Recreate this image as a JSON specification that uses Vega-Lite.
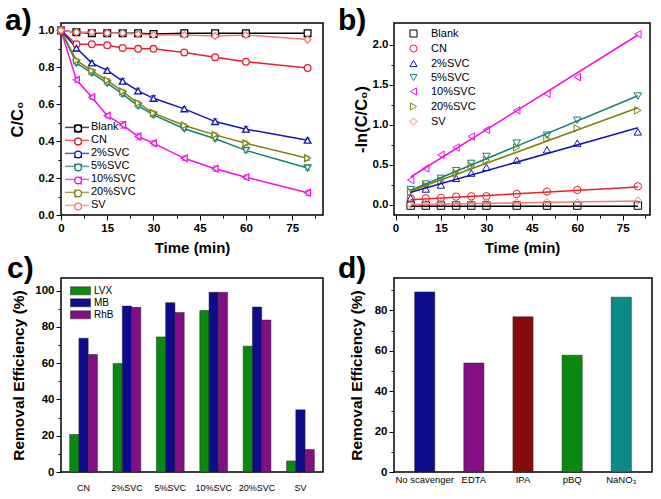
{
  "$schema": "https://vega.github.io/schema/vega-lite/v6.json",
  "padding": {"left": 4, "top": 5, "right": 0, "bottom": 0},
  "background": "white",
  "config": {
    "font": "Liberation Sans",
    "view": {"stroke": "black", "strokeWidth": 1.5},
    "axis": {"domain": false, "grid": false, "tickColor": "black", "tickWidth": 1, "labelColor": "black", "labelFont": "Liberation Sans", "labelFontWeight": "bold", "labelFontSize": 11.5, "labelPadding": 2, "titleColor": "black", "titleFont": "Liberation Sans", "titleFontWeight": "bold", "titleFontSize": 15, "labelFlush": false, "labelOverlap": false},
    "title": {"fontSize": 30, "fontWeight": "bold", "anchor": "start", "frame": "group", "color": "black", "font": "Liberation Sans"},
    "legend": {"labelFont": "Liberation Sans", "labelColor": "black"}
  },
  "datasets": {
    "kin": [
      {"t":0,"s":"Blank","c":1.0,"e":0},{"t":5,"s":"Blank","c":0.99,"e":0.015},{"t":10,"s":"Blank","c":0.985,"e":0.012},{"t":15,"s":"Blank","c":0.985,"e":0.012},{"t":20,"s":"Blank","c":0.985,"e":0.01},{"t":25,"s":"Blank","c":0.985,"e":0.012},{"t":30,"s":"Blank","c":0.98,"e":0.015},{"t":40,"s":"Blank","c":0.985,"e":0.01},{"t":50,"s":"Blank","c":0.985,"e":0.01},{"t":60,"s":"Blank","c":0.985,"e":0.012},{"t":80,"s":"Blank","c":0.985,"e":0.015},
      {"t":0,"s":"CN","c":1.0,"e":0},{"t":5,"s":"CN","c":0.925,"e":0.015},{"t":10,"s":"CN","c":0.925,"e":0.012},{"t":15,"s":"CN","c":0.92,"e":0.015},{"t":20,"s":"CN","c":0.905,"e":0.012},{"t":25,"s":"CN","c":0.9,"e":0.015},{"t":30,"s":"CN","c":0.9,"e":0.015},{"t":40,"s":"CN","c":0.88,"e":0.015},{"t":50,"s":"CN","c":0.855,"e":0.015},{"t":60,"s":"CN","c":0.83,"e":0.015},{"t":80,"s":"CN","c":0.796,"e":0.012},
      {"t":0,"s":"2%SVC","c":1.0,"e":0},{"t":5,"s":"2%SVC","c":0.904,"e":0.015},{"t":10,"s":"2%SVC","c":0.823,"e":0.012},{"t":15,"s":"2%SVC","c":0.783,"e":0.01},{"t":20,"s":"2%SVC","c":0.725,"e":0.015},{"t":25,"s":"2%SVC","c":0.672,"e":0.015},{"t":30,"s":"2%SVC","c":0.632,"e":0.015},{"t":40,"s":"2%SVC","c":0.575,"e":0.01},{"t":50,"s":"2%SVC","c":0.506,"e":0.015},{"t":60,"s":"2%SVC","c":0.465,"e":0.015},{"t":80,"s":"2%SVC","c":0.405,"e":0.012},
      {"t":0,"s":"5%SVC","c":1.0,"e":0},{"t":5,"s":"5%SVC","c":0.823,"e":0.012},{"t":10,"s":"5%SVC","c":0.769,"e":0.01},{"t":15,"s":"5%SVC","c":0.714,"e":0.01},{"t":20,"s":"5%SVC","c":0.655,"e":0.012},{"t":25,"s":"5%SVC","c":0.591,"e":0.012},{"t":30,"s":"5%SVC","c":0.542,"e":0.012},{"t":40,"s":"5%SVC","c":0.467,"e":0.01},{"t":50,"s":"5%SVC","c":0.413,"e":0.012},{"t":60,"s":"5%SVC","c":0.35,"e":0.012},{"t":80,"s":"5%SVC","c":0.255,"e":0.012},
      {"t":0,"s":"10%SVC","c":1.0,"e":0},{"t":5,"s":"10%SVC","c":0.732,"e":0.015},{"t":10,"s":"10%SVC","c":0.638,"e":0.012},{"t":15,"s":"10%SVC","c":0.538,"e":0.012},{"t":20,"s":"10%SVC","c":0.488,"e":0.018},{"t":25,"s":"10%SVC","c":0.425,"e":0.018},{"t":30,"s":"10%SVC","c":0.389,"e":0.015},{"t":40,"s":"10%SVC","c":0.307,"e":0.012},{"t":50,"s":"10%SVC","c":0.251,"e":0.015},{"t":60,"s":"10%SVC","c":0.205,"e":0.012},{"t":80,"s":"10%SVC","c":0.12,"e":0.015},
      {"t":0,"s":"20%SVC","c":1.0,"e":0},{"t":5,"s":"20%SVC","c":0.837,"e":0.012},{"t":10,"s":"20%SVC","c":0.781,"e":0.01},{"t":15,"s":"20%SVC","c":0.729,"e":0.01},{"t":20,"s":"20%SVC","c":0.669,"e":0.012},{"t":25,"s":"20%SVC","c":0.606,"e":0.012},{"t":30,"s":"20%SVC","c":0.552,"e":0.012},{"t":40,"s":"20%SVC","c":0.485,"e":0.01},{"t":50,"s":"20%SVC","c":0.434,"e":0.012},{"t":60,"s":"20%SVC","c":0.389,"e":0.012},{"t":80,"s":"20%SVC","c":0.307,"e":0.012},
      {"t":0,"s":"SV","c":1.0,"e":0},{"t":5,"s":"SV","c":0.99,"e":0.015},{"t":10,"s":"SV","c":0.99,"e":0.012},{"t":15,"s":"SV","c":0.985,"e":0.015},{"t":20,"s":"SV","c":0.985,"e":0.012},{"t":25,"s":"SV","c":0.98,"e":0.015},{"t":30,"s":"SV","c":0.975,"e":0.012},{"t":40,"s":"SV","c":0.975,"e":0.012},{"t":50,"s":"SV","c":0.97,"e":0.012},{"t":60,"s":"SV","c":0.975,"e":0.012},{"t":80,"s":"SV","c":0.95,"e":0.012}
    ],
    "ln": [
      {"t":5,"s":"Blank","v":-0.012},{"t":10,"s":"Blank","v":-0.012},{"t":15,"s":"Blank","v":-0.012},{"t":20,"s":"Blank","v":-0.012},{"t":25,"s":"Blank","v":-0.012},{"t":30,"s":"Blank","v":-0.012},{"t":40,"s":"Blank","v":-0.012},{"t":50,"s":"Blank","v":-0.012},{"t":60,"s":"Blank","v":-0.012},{"t":80,"s":"Blank","v":-0.012},
      {"t":5,"s":"CN","v":0.079},{"t":10,"s":"CN","v":0.079},{"t":15,"s":"CN","v":0.083},{"t":20,"s":"CN","v":0.1},{"t":25,"s":"CN","v":0.104},{"t":30,"s":"CN","v":0.104},{"t":40,"s":"CN","v":0.133},{"t":50,"s":"CN","v":0.162},{"t":60,"s":"CN","v":0.183},{"t":80,"s":"CN","v":0.228},
      {"t":5,"s":"2%SVC","v":0.083},{"t":10,"s":"2%SVC","v":0.195},{"t":15,"s":"2%SVC","v":0.245},{"t":20,"s":"2%SVC","v":0.328},{"t":25,"s":"2%SVC","v":0.394},{"t":30,"s":"2%SVC","v":0.465},{"t":40,"s":"2%SVC","v":0.556},{"t":50,"s":"2%SVC","v":0.685},{"t":60,"s":"2%SVC","v":0.768},{"t":80,"s":"2%SVC","v":0.909},
      {"t":5,"s":"5%SVC","v":0.187},{"t":10,"s":"5%SVC","v":0.257},{"t":15,"s":"5%SVC","v":0.328},{"t":20,"s":"5%SVC","v":0.423},{"t":25,"s":"5%SVC","v":0.515},{"t":30,"s":"5%SVC","v":0.602},{"t":40,"s":"5%SVC","v":0.768},{"t":50,"s":"5%SVC","v":0.867},{"t":60,"s":"5%SVC","v":1.054},{"t":80,"s":"5%SVC","v":1.357},
      {"t":5,"s":"10%SVC","v":0.307},{"t":10,"s":"10%SVC","v":0.452},{"t":15,"s":"10%SVC","v":0.622},{"t":20,"s":"10%SVC","v":0.714},{"t":25,"s":"10%SVC","v":0.851},{"t":30,"s":"10%SVC","v":0.934},{"t":40,"s":"10%SVC","v":1.178},{"t":50,"s":"10%SVC","v":1.386},{"t":60,"s":"10%SVC","v":1.593},{"t":80,"s":"10%SVC","v":2.13},
      {"t":5,"s":"20%SVC","v":0.162},{"t":10,"s":"20%SVC","v":0.237},{"t":15,"s":"20%SVC","v":0.299},{"t":20,"s":"20%SVC","v":0.39},{"t":25,"s":"20%SVC","v":0.485},{"t":30,"s":"20%SVC","v":0.556},{"t":40,"s":"20%SVC","v":0.714},{"t":50,"s":"20%SVC","v":0.826},{"t":60,"s":"20%SVC","v":0.954},{"t":80,"s":"20%SVC","v":1.178},
      {"t":5,"s":"SV","v":0.005},{"t":10,"s":"SV","v":0.01},{"t":15,"s":"SV","v":0.015},{"t":20,"s":"SV","v":0.015},{"t":25,"s":"SV","v":0.02},{"t":30,"s":"SV","v":0.03},{"t":40,"s":"SV","v":0.025},{"t":50,"s":"SV","v":0.03},{"t":60,"s":"SV","v":0.025},{"t":80,"s":"SV","v":0.05}
    ],
    "fit": [
      {"t":5,"s":"Blank","v":-0.02},{"t":80,"s":"Blank","v":-0.02},
      {"t":5,"s":"CN","v":0.06},{"t":80,"s":"CN","v":0.22},
      {"t":5,"s":"2%SVC","v":0.155},{"t":80,"s":"2%SVC","v":0.96},
      {"t":5,"s":"5%SVC","v":0.18},{"t":80,"s":"5%SVC","v":1.36},
      {"t":5,"s":"10%SVC","v":0.345},{"t":80,"s":"10%SVC","v":2.12},
      {"t":5,"s":"20%SVC","v":0.17},{"t":80,"s":"20%SVC","v":1.21},
      {"t":5,"s":"SV","v":0.0},{"t":80,"s":"SV","v":0.045}
    ],
    "eff": [
      {"cat":"CN","dye":"LVX","v":20.7},{"cat":"CN","dye":"MB","v":73.8},{"cat":"CN","dye":"RhB","v":64.8},
      {"cat":"2%SVC","dye":"LVX","v":59.8},{"cat":"2%SVC","dye":"MB","v":91.5},{"cat":"2%SVC","dye":"RhB","v":90.8},
      {"cat":"5%SVC","dye":"LVX","v":74.5},{"cat":"5%SVC","dye":"MB","v":93.4},{"cat":"5%SVC","dye":"RhB","v":88.0},
      {"cat":"10%SVC","dye":"LVX","v":89.1},{"cat":"10%SVC","dye":"MB","v":99.1},{"cat":"10%SVC","dye":"RhB","v":99.1},
      {"cat":"20%SVC","dye":"LVX","v":69.4},{"cat":"20%SVC","dye":"MB","v":91.0},{"cat":"20%SVC","dye":"RhB","v":83.8},
      {"cat":"SV","dye":"LVX","v":6.1},{"cat":"SV","dye":"MB","v":34.3},{"cat":"SV","dye":"RhB","v":12.4}
    ],
    "scav": [
      {"cat":"No scavenger","v":89.1},{"cat":"EDTA","v":53.9},{"cat":"IPA","v":76.8},{"cat":"pBQ","v":57.8},{"cat":"NaNO₃","v":86.5}
    ]
  },
  "columns": 2,
  "bounds": "flush",
  "spacing": {"row": 63, "column": 71},
  "resolve": {
    "scale": {"color": "independent", "stroke": "independent", "shape": "independent"},
    "legend": {"color": "independent", "stroke": "independent", "shape": "independent"}
  },
  "concat": [
    {
      "width": 262, "height": 192,
      "title": {"text": "a)", "dx": -56, "offset": -13},
      "data": {"name": "kin"},
      "encoding": {
        "x": {"field": "t", "type": "quantitative", "scale": {"domain": [0, 85], "nice": false},
          "axis": {"title": "Time (min)", "titlePadding": 7, "values": [0,7.5,15,22.5,30,37.5,45,52.5,60,67.5,75,82.5],
            "labelExpr": "round(datum.value/7.5)%2==0 ? datum.label : ''",
            "tickSize": {"condition": {"test": "round(datum.value/7.5)%2==0", "value": 5}, "value": 3}}},
        "y": {"field": "c", "type": "quantitative", "scale": {"domain": [0, 1.04], "nice": false, "zero": false},
          "axis": {"title": "C/C₀", "titleFontSize": 16.5, "titlePadding": 13, "format": ".1f", "values": [0,0.1,0.2,0.3,0.4,0.5,0.6,0.7,0.8,0.9,1.0],
            "labelExpr": "round(datum.value*10)%2==0 ? datum.label : ''",
            "tickSize": {"condition": {"test": "round(datum.value*10)%2==0", "value": 5}, "value": 3}}}
      },
      "layer": [
        {"mark": {"type": "errorbar", "ticks": {"size": 5}, "thickness": 1},
         "encoding": {"yError": {"field": "e"},
           "color": {"field": "s", "type": "nominal", "scale": {"domain": ["Blank","CN","2%SVC","5%SVC","10%SVC","20%SVC","SV"], "range": ["#000000","#e8202a","#1414b4","#128272","#f010e6","#80800a","#f27a72"]},
             "legend": {"title": null, "orient": "bottom-left", "offset": 3, "padding": 0, "symbolType": "stroke", "symbolSize": 576, "symbolStrokeWidth": 1.5, "clipHeight": 12.8, "rowPadding": 0, "labelOffset": 1, "labelFontSize": 11}}}},
        {"mark": {"type": "line", "strokeWidth": 1.5},
         "encoding": {"color": {"field": "s", "type": "nominal", "scale": {"domain": ["Blank","CN","2%SVC","5%SVC","10%SVC","20%SVC","SV"], "range": ["#000000","#e8202a","#1414b4","#128272","#f010e6","#80800a","#f27a72"]},
             "legend": {"title": null, "orient": "bottom-left", "offset": 3, "padding": 0, "symbolType": "stroke", "symbolSize": 576, "symbolStrokeWidth": 1.5, "clipHeight": 12.8, "rowPadding": 0, "labelOffset": 1, "labelFontSize": 11}}}},
        {"mark": {"type": "point", "filled": true, "fill": "white", "size": 45, "strokeWidth": 1.3, "opacity": 1},
         "encoding": {
           "stroke": {"field": "s", "type": "nominal", "scale": {"domain": ["Blank","CN","2%SVC","5%SVC","10%SVC","20%SVC","SV"], "range": ["#000000","#e8202a","#1414b4","#128272","#f010e6","#80800a","#f27a72"]},
             "legend": {"title": null, "orient": "none", "legendX": 11.6, "legendY": 99, "padding": 0, "labelFontSize": 11, "labelExpr": "''", "symbolSize": 45, "symbolStrokeWidth": 1.3, "symbolFillColor": "white", "clipHeight": 12.8, "rowPadding": 0}},
           "shape": {"field": "s", "type": "nominal", "scale": {"domain": ["Blank","CN","2%SVC","5%SVC","10%SVC","20%SVC","SV"], "range": ["square","circle","triangle-up","triangle-down","triangle-left","triangle-right","diamond"]},
             "legend": {"title": null, "orient": "none", "legendX": 11.6, "legendY": 99, "padding": 0, "labelFontSize": 11, "labelExpr": "''", "symbolSize": 45, "symbolStrokeWidth": 1.3, "symbolFillColor": "white", "clipHeight": 12.8, "rowPadding": 0}}
         }}
      ]
    },
    {
      "width": 256, "height": 192,
      "title": {"text": "b)", "dx": -56, "offset": -13},
      "encoding": {
        "x": {"field": "t", "type": "quantitative", "scale": {"domain": [-0.5, 84], "nice": false, "zero": false},
          "axis": {"title": "Time (min)", "titlePadding": 7, "values": [0,7.5,15,22.5,30,37.5,45,52.5,60,67.5,75,82.5],
            "labelExpr": "round(datum.value/7.5)%2==0 ? datum.label : ''",
            "tickSize": {"condition": {"test": "round(datum.value/7.5)%2==0", "value": 5}, "value": 3}}},
        "y": {"field": "v", "type": "quantitative", "scale": {"domain": [-0.13, 2.27], "nice": false, "zero": false},
          "axis": {"title": "-ln(C/C₀)", "titleFontSize": 16.5, "titlePadding": 3, "labelPadding": 1, "format": ".1f", "values": [0,0.25,0.5,0.75,1.0,1.25,1.5,1.75,2.0],
            "labelExpr": "round(datum.value*4)%2==0 ? datum.label : ''",
            "tickSize": {"condition": {"test": "round(datum.value*4)%2==0", "value": 5}, "value": 3}}}
      },
      "layer": [
        {"data": {"name": "ln"},
         "mark": {"type": "point", "filled": false, "size": 55, "strokeWidth": 1, "opacity": 1},
         "encoding": {
           "color": {"field": "s", "type": "nominal", "scale": {"domain": ["Blank","CN","2%SVC","5%SVC","10%SVC","20%SVC","SV"], "range": ["#000000","#e8202a","#1414b4","#128272","#f010e6","#80800a","#f27a72"]},
             "legend": {"title": null, "orient": "none", "legendX": 14, "legendY": 5, "padding": 0, "labelFontSize": 11, "symbolSize": 50, "symbolStrokeWidth": 1, "rowPadding": 2, "labelOffset": 12}},
           "shape": {"field": "s", "type": "nominal", "scale": {"domain": ["Blank","CN","2%SVC","5%SVC","10%SVC","20%SVC","SV"], "range": ["square","circle","triangle-up","triangle-down","triangle-left","triangle-right","diamond"]},
             "legend": {"title": null, "orient": "none", "legendX": 14, "legendY": 5, "padding": 0, "labelFontSize": 11, "symbolSize": 50, "symbolStrokeWidth": 1, "rowPadding": 2, "labelOffset": 12}}
         }},
        {"data": {"name": "fit"},
         "mark": {"type": "line", "strokeWidth": 1.5},
         "encoding": {"color": {"field": "s", "type": "nominal", "scale": {"domain": ["Blank","CN","2%SVC","5%SVC","10%SVC","20%SVC","SV"], "range": ["#000000","#e8202a","#1414b4","#128272","#f010e6","#80800a","#f27a72"]}, "legend": {"title": null, "orient": "none", "legendX": 14, "legendY": 5, "padding": 0, "labelFontSize": 11, "symbolSize": 50, "symbolStrokeWidth": 1, "rowPadding": 2, "labelOffset": 12}}}}
      ]
    },
    {
      "width": 262, "height": 194,
      "title": {"text": "c)", "dx": -54, "offset": -6},
      "data": {"name": "eff"},
      "mark": {"type": "bar", "stroke": "#222222", "strokeWidth": 0.5},
      "encoding": {
        "x": {"field": "cat", "type": "nominal", "sort": ["CN","2%SVC","5%SVC","10%SVC","20%SVC","SV"], "scale": {"paddingInner": 0.36, "paddingOuter": 0.2},
          "axis": {"title": null, "labelAngle": 0, "ticks": false, "labelPadding": 11, "labelFontWeight": "normal", "labelFontSize": 9}},
        "xOffset": {"field": "dye", "type": "nominal", "sort": ["LVX","MB","RhB"]},
        "y": {"field": "v", "type": "quantitative", "scale": {"domain": [0, 107], "nice": false},
          "axis": {"title": "Removal Efficiency (%)", "titleFontSize": 15.5, "titlePadding": 8, "values": [0,10,20,30,40,50,60,70,80,90,100],
            "labelExpr": "round(datum.value/10)%2==0 ? datum.label : ''",
            "tickSize": {"condition": {"test": "round(datum.value/10)%2==0", "value": 5}, "value": 3}}},
        "color": {"field": "dye", "type": "nominal", "scale": {"domain": ["LVX","MB","RhB"], "range": ["#0b8a12","#0c0c8c","#830f84"]},
          "legend": {"title": null, "orient": "none", "legendX": 9, "legendY": 7, "padding": 0, "symbolType": "M-1,-0.4H1V0.4H-1Z", "symbolSize": 400, "clipHeight": 11.7, "rowPadding": 0, "labelFontSize": 10, "labelOffset": 3, "symbolStrokeColor": "#222222", "symbolStrokeWidth": 0.5}}
      }
    },
    {
      "width": 258, "height": 194,
      "title": {"text": "d)", "dx": -56, "offset": -6},
      "data": {"name": "scav"},
      "mark": {"type": "bar", "stroke": "#222222", "strokeWidth": 0.5},
      "encoding": {
        "x": {"field": "cat", "type": "nominal", "sort": ["No scavenger","EDTA","IPA","pBQ","NaNO₃"], "scale": {"paddingInner": 0.59, "paddingOuter": 0.42},
          "axis": {"title": null, "labelAngle": 0, "ticks": false, "labelPadding": 2, "labelFontWeight": "normal", "labelFontSize": 9.5}},
        "y": {"field": "v", "type": "quantitative", "scale": {"domain": [0, 96], "nice": false},
          "axis": {"title": "Removal Efficiency (%)", "titleFontSize": 15.5, "titlePadding": 10, "values": [0,10,20,30,40,50,60,70,80,90],
            "labelExpr": "round(datum.value/10)%2==0 ? datum.label : ''",
            "tickSize": {"condition": {"test": "round(datum.value/10)%2==0", "value": 5}, "value": 3}}},
        "color": {"field": "cat", "type": "nominal", "scale": {"domain": ["No scavenger","EDTA","IPA","pBQ","NaNO₃"], "range": ["#0c0c8c","#830f84","#850a0a","#0b8a12","#0e8a86"]}, "legend": null}
      }
    }
  ]
}
